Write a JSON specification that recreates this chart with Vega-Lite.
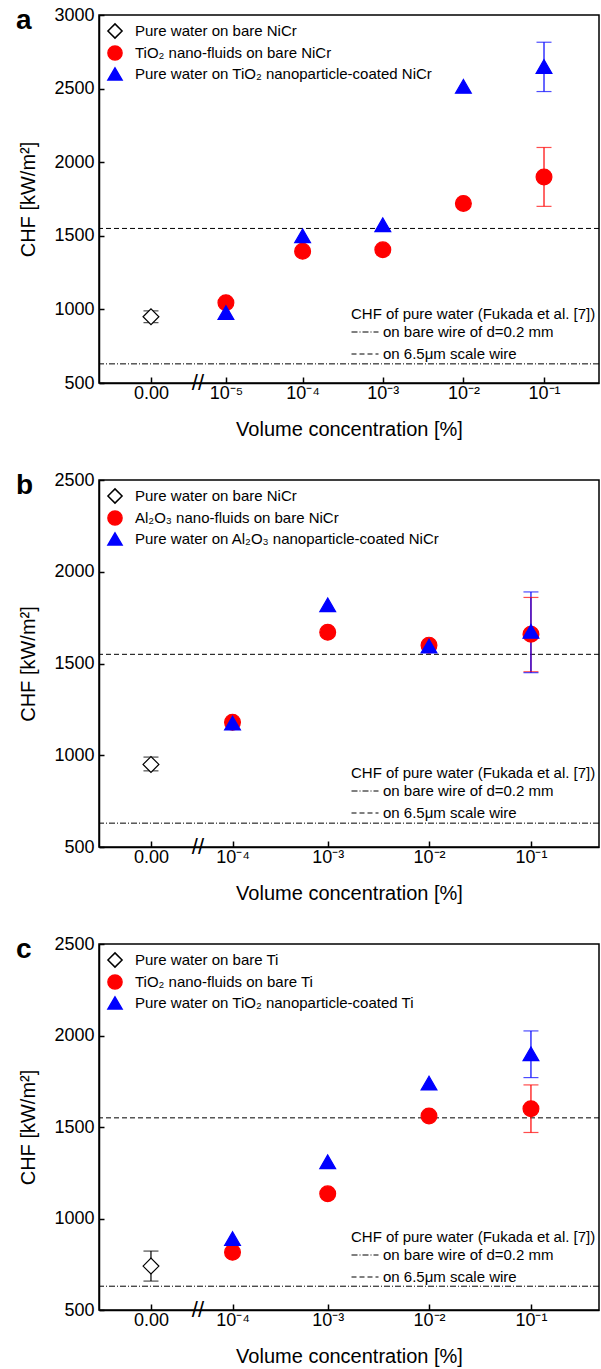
{
  "$schema": "https://vega.github.io/schema/vega-lite/v6.json",
  "padding": {"left": 15, "top": 5, "right": 3, "bottom": 0},
  "spacing": 30,
  "config": {
    "font": "Liberation Sans",
    "view": {"stroke": "black", "strokeWidth": 1.5},
    "axis": {"grid": false, "domainColor": "black", "domainWidth": 1.5, "tickColor": "black", "tickWidth": 1.5, "labelColor": "black", "titleColor": "black", "labelFontSize": 18, "titleFontSize": 20, "titleFontWeight": "normal", "labelFont": "Liberation Sans", "titleFont": "Liberation Sans"},
    "legend": {"labelFont": "Liberation Sans", "labelFontSize": 15, "labelColor": "black", "titleFont": "Liberation Sans", "labelLimit": 500},
    "title": {"anchor": "start", "frame": "bounds", "fontSize": 28, "fontWeight": "bold", "font": "Liberation Sans", "color": "black", "offset": -29, "dx": -3}
  },
  "datasets": {
    "refs": [
      {"line": "on bare wire of d=0.2 mm", "chf": 630},
      {"line": "on 6.5μm scale wire", "chf": 1550}
    ],
    "pa": [
      {"conc": 0, "series": "Pure water on bare NiCr", "chf": 950, "lo": 910, "hi": 990},
      {"conc": 0.00001, "series": "TiO₂ nano-fluids on bare NiCr", "chf": 1045, "lo": null, "hi": null},
      {"conc": 0.0001, "series": "TiO₂ nano-fluids on bare NiCr", "chf": 1395, "lo": null, "hi": null},
      {"conc": 0.001, "series": "TiO₂ nano-fluids on bare NiCr", "chf": 1405, "lo": null, "hi": null},
      {"conc": 0.01, "series": "TiO₂ nano-fluids on bare NiCr", "chf": 1720, "lo": null, "hi": null},
      {"conc": 0.1, "series": "TiO₂ nano-fluids on bare NiCr", "chf": 1900, "lo": 1700, "hi": 2100},
      {"conc": 0.00001, "series": "Pure water on TiO₂ nanoparticle-coated NiCr", "chf": 978, "lo": null, "hi": null},
      {"conc": 0.0001, "series": "Pure water on TiO₂ nanoparticle-coated NiCr", "chf": 1500, "lo": null, "hi": null},
      {"conc": 0.001, "series": "Pure water on TiO₂ nanoparticle-coated NiCr", "chf": 1575, "lo": null, "hi": null},
      {"conc": 0.01, "series": "Pure water on TiO₂ nanoparticle-coated NiCr", "chf": 2515, "lo": null, "hi": null},
      {"conc": 0.1, "series": "Pure water on TiO₂ nanoparticle-coated NiCr", "chf": 2650, "lo": 2480, "hi": 2815}
    ],
    "pb": [
      {"conc": 0, "series": "Pure water on bare NiCr", "chf": 950, "lo": 915, "hi": 990},
      {"conc": 0.0001, "series": "Al₂O₃ nano-fluids on bare NiCr", "chf": 1180, "lo": null, "hi": null},
      {"conc": 0.001, "series": "Al₂O₃ nano-fluids on bare NiCr", "chf": 1670, "lo": null, "hi": null},
      {"conc": 0.01, "series": "Al₂O₃ nano-fluids on bare NiCr", "chf": 1600, "lo": null, "hi": null},
      {"conc": 0.1, "series": "Al₂O₃ nano-fluids on bare NiCr", "chf": 1660, "lo": 1455, "hi": 1860},
      {"conc": 0.0001, "series": "Pure water on Al₂O₃ nanoparticle-coated NiCr", "chf": 1175, "lo": null, "hi": null},
      {"conc": 0.001, "series": "Pure water on Al₂O₃ nanoparticle-coated NiCr", "chf": 1820, "lo": null, "hi": null},
      {"conc": 0.01, "series": "Pure water on Al₂O₃ nanoparticle-coated NiCr", "chf": 1595, "lo": null, "hi": null},
      {"conc": 0.1, "series": "Pure water on Al₂O₃ nanoparticle-coated NiCr", "chf": 1675, "lo": 1450, "hi": 1890}
    ],
    "pc": [
      {"conc": 0, "series": "Pure water on bare Ti", "chf": 740, "lo": 658, "hi": 822},
      {"conc": 0.0001, "series": "TiO₂ nano-fluids on bare Ti", "chf": 815, "lo": null, "hi": null},
      {"conc": 0.001, "series": "TiO₂ nano-fluids on bare Ti", "chf": 1135, "lo": null, "hi": null},
      {"conc": 0.01, "series": "TiO₂ nano-fluids on bare Ti", "chf": 1560, "lo": null, "hi": null},
      {"conc": 0.1, "series": "TiO₂ nano-fluids on bare Ti", "chf": 1600, "lo": 1470, "hi": 1730},
      {"conc": 0.0001, "series": "Pure water on TiO₂ nanoparticle-coated Ti", "chf": 890, "lo": null, "hi": null},
      {"conc": 0.001, "series": "Pure water on TiO₂ nanoparticle-coated Ti", "chf": 1310, "lo": null, "hi": null},
      {"conc": 0.01, "series": "Pure water on TiO₂ nanoparticle-coated Ti", "chf": 1740, "lo": null, "hi": null},
      {"conc": 0.1, "series": "Pure water on TiO₂ nanoparticle-coated Ti", "chf": 1900, "lo": 1770, "hi": 2025}
    ]
  },
  "resolve": {
    "scale": {"x": "independent", "y": "independent", "shape": "independent", "fill": "independent", "stroke": "independent", "color": "independent", "strokeDash": "independent"}
  },
  "vconcat": [
    {
      "width": 500, "height": 368,
      "title": {"text": "a"},
      "layer": [
        {
          "data": {"name": "refs"},
          "mark": {"type": "rule", "color": "black", "strokeWidth": 1},
          "encoding": {
            "y": {"field": "chf", "type": "quantitative", "title": "CHF [kW/m²]", "scale": {"domain": [500, 3000], "nice": false, "zero": false}},
            "strokeDash": {"field": "line", "type": "nominal", "scale": {"domain": ["on bare wire of d=0.2 mm", "on 6.5μm scale wire"], "range": [[6, 2, 1, 2], [5, 3]]},
              "legend": {"orient": "none", "legendX": 252, "legendY": 292, "title": "CHF of pure water (Fukada et al. [7])", "titleFontSize": 15, "titleFontWeight": "normal", "titleColor": "black", "titlePadding": -4, "symbolType": "stroke", "symbolSize": 729, "symbolStrokeColor": "black", "symbolStrokeWidth": 1, "labelOffset": 4, "rowPadding": -12, "titleLimit": 500}}
          }
        },
        {
          "data": {"name": "pa"},
          "transform": [{"filter": "isValid(datum.lo)"}],
          "mark": {"type": "rule", "strokeWidth": 1.2},
          "encoding": {
            "x": {"field": "conc", "type": "quantitative", "title": "Volume concentration [%]"},
            "y": {"field": "lo", "type": "quantitative", "title": "CHF [kW/m²]"},
            "y2": {"field": "hi"},
            "color": {"field": "series", "type": "nominal", "scale": {"domain": ["TiO₂ nano-fluids on bare NiCr", "Pure water on TiO₂ nanoparticle-coated NiCr", "Pure water on bare NiCr"], "range": ["red", "blue", "black"]}, "legend": null}
          }
        },
        {
          "data": {"name": "pa"},
          "transform": [{"filter": "isValid(datum.lo)"}],
          "mark": {"type": "tick", "orient": "horizontal", "size": 15, "thickness": 1.2},
          "encoding": {
            "x": {"field": "conc", "type": "quantitative", "title": "Volume concentration [%]"},
            "y": {"field": "lo", "type": "quantitative", "title": "CHF [kW/m²]"},
            "color": {"field": "series", "type": "nominal", "legend": null}
          }
        },
        {
          "data": {"name": "pa"},
          "transform": [{"filter": "isValid(datum.lo)"}],
          "mark": {"type": "tick", "orient": "horizontal", "size": 15, "thickness": 1.2},
          "encoding": {
            "x": {"field": "conc", "type": "quantitative", "title": "Volume concentration [%]"},
            "y": {"field": "hi", "type": "quantitative", "title": "CHF [kW/m²]"},
            "color": {"field": "series", "type": "nominal", "legend": null}
          }
        },
        {
          "data": {"name": "pa"},
          "mark": {"type": "point", "filled": true, "opacity": 1, "size": 250, "strokeWidth": 1.2},
          "encoding": {
            "x": {"field": "conc", "type": "quantitative", "title": "Volume concentration [%]",
              "scale": {"type": "symlog", "constant": 1.333e-6, "domain": [-4.55e-6, 0.481], "nice": false, "zero": false},
              "axis": {"values": [0, 0.00001, 0.0001, 0.001, 0.01, 0.1], "tickSize": -6, "labelPadding": 7, "titlePadding": 17,
                "labelExpr": "datum.value == 0 ? '0.00' : datum.value < 5e-5 ? '10⁻⁵' : datum.value < 5e-4 ? '10⁻⁴' : datum.value < 5e-3 ? '10⁻³' : datum.value < 5e-2 ? '10⁻²' : '10⁻¹'"}},
            "y": {"field": "chf", "type": "quantitative", "title": "CHF [kW/m²]",
              "axis": {"values": [500, 1000, 1500, 2000, 2500, 3000], "format": "d", "tickSize": -5, "labelPadding": 10, "titlePadding": 15}},
            "shape": {"field": "series", "type": "nominal", "scale": {"domain": ["Pure water on bare NiCr", "TiO₂ nano-fluids on bare NiCr", "Pure water on TiO₂ nanoparticle-coated NiCr"], "range": ["diamond", "circle", "triangle-up"]},
              "legend": {"orient": "top-left", "offset": 8, "title": null, "symbolSize": 200, "labelOffset": 12, "rowPadding": 0}},
            "fill": {"field": "series", "type": "nominal", "scale": {"domain": ["Pure water on bare NiCr", "TiO₂ nano-fluids on bare NiCr", "Pure water on TiO₂ nanoparticle-coated NiCr"], "range": ["white", "red", "blue"]},
              "legend": {"orient": "top-left", "offset": 8, "title": null, "symbolSize": 200, "labelOffset": 12, "rowPadding": 0}},
            "stroke": {"field": "series", "type": "nominal", "scale": {"domain": ["Pure water on bare NiCr", "TiO₂ nano-fluids on bare NiCr", "Pure water on TiO₂ nanoparticle-coated NiCr"], "range": ["black", "red", "blue"]},
              "legend": {"orient": "top-left", "offset": 8, "title": null, "symbolSize": 200, "labelOffset": 12, "rowPadding": 0}}
          }
        },
        {
          "data": {"values": [{"mark": "break"}]},
          "mark": {"type": "text", "text": "//", "fontSize": 22, "font": "Liberation Sans", "baseline": "middle", "align": "center"},
          "encoding": {
            "x": {"datum": 3.77e-6, "type": "quantitative", "title": "Volume concentration [%]"},
            "y": {"datum": 500, "type": "quantitative", "title": "CHF [kW/m²]"}
          }
        }
      ]
    },
    {
      "width": 500, "height": 367,
      "title": {"text": "b"},
      "layer": [
        {
          "data": {"name": "refs"},
          "mark": {"type": "rule", "color": "black", "strokeWidth": 1},
          "encoding": {
            "y": {"field": "chf", "type": "quantitative", "title": "CHF [kW/m²]", "scale": {"domain": [500, 2500], "nice": false, "zero": false}},
            "strokeDash": {"field": "line", "type": "nominal", "scale": {"domain": ["on bare wire of d=0.2 mm", "on 6.5μm scale wire"], "range": [[6, 2, 1, 2], [5, 3]]},
              "legend": {"orient": "none", "legendX": 252, "legendY": 286, "title": "CHF of pure water (Fukada et al. [7])", "titleFontSize": 15, "titleFontWeight": "normal", "titleColor": "black", "titlePadding": -4, "symbolType": "stroke", "symbolSize": 729, "symbolStrokeColor": "black", "symbolStrokeWidth": 1, "labelOffset": 4, "rowPadding": -12, "titleLimit": 500}}
          }
        },
        {
          "data": {"name": "pb"},
          "transform": [{"filter": "isValid(datum.lo)"}],
          "mark": {"type": "rule", "strokeWidth": 1.2},
          "encoding": {
            "x": {"field": "conc", "type": "quantitative", "title": "Volume concentration [%]"},
            "y": {"field": "lo", "type": "quantitative", "title": "CHF [kW/m²]"},
            "y2": {"field": "hi"},
            "color": {"field": "series", "type": "nominal", "scale": {"domain": ["Al₂O₃ nano-fluids on bare NiCr", "Pure water on Al₂O₃ nanoparticle-coated NiCr", "Pure water on bare NiCr"], "range": ["red", "blue", "black"]}, "legend": null}
          }
        },
        {
          "data": {"name": "pb"},
          "transform": [{"filter": "isValid(datum.lo)"}],
          "mark": {"type": "tick", "orient": "horizontal", "size": 15, "thickness": 1.2},
          "encoding": {
            "x": {"field": "conc", "type": "quantitative", "title": "Volume concentration [%]"},
            "y": {"field": "lo", "type": "quantitative", "title": "CHF [kW/m²]"},
            "color": {"field": "series", "type": "nominal", "legend": null}
          }
        },
        {
          "data": {"name": "pb"},
          "transform": [{"filter": "isValid(datum.lo)"}],
          "mark": {"type": "tick", "orient": "horizontal", "size": 15, "thickness": 1.2},
          "encoding": {
            "x": {"field": "conc", "type": "quantitative", "title": "Volume concentration [%]"},
            "y": {"field": "hi", "type": "quantitative", "title": "CHF [kW/m²]"},
            "color": {"field": "series", "type": "nominal", "legend": null}
          }
        },
        {
          "data": {"name": "pb"},
          "mark": {"type": "point", "filled": true, "opacity": 1, "size": 250, "strokeWidth": 1.2},
          "encoding": {
            "x": {"field": "conc", "type": "quantitative", "title": "Volume concentration [%]",
              "scale": {"type": "symlog", "constant": 1.887e-5, "domain": [-4.21e-5, 0.4645], "nice": false, "zero": false},
              "axis": {"values": [0, 0.0001, 0.001, 0.01, 0.1], "tickSize": -6, "labelPadding": 7, "titlePadding": 17,
                "labelExpr": "datum.value == 0 ? '0.00' : datum.value < 5e-5 ? '10⁻⁵' : datum.value < 5e-4 ? '10⁻⁴' : datum.value < 5e-3 ? '10⁻³' : datum.value < 5e-2 ? '10⁻²' : '10⁻¹'"}},
            "y": {"field": "chf", "type": "quantitative", "title": "CHF [kW/m²]",
              "axis": {"values": [500, 1000, 1500, 2000, 2500], "format": "d", "tickSize": -5, "labelPadding": 10, "titlePadding": 15}},
            "shape": {"field": "series", "type": "nominal", "scale": {"domain": ["Pure water on bare NiCr", "Al₂O₃ nano-fluids on bare NiCr", "Pure water on Al₂O₃ nanoparticle-coated NiCr"], "range": ["diamond", "circle", "triangle-up"]},
              "legend": {"orient": "top-left", "offset": 8, "title": null, "symbolSize": 200, "labelOffset": 12, "rowPadding": 0}},
            "fill": {"field": "series", "type": "nominal", "scale": {"domain": ["Pure water on bare NiCr", "Al₂O₃ nano-fluids on bare NiCr", "Pure water on Al₂O₃ nanoparticle-coated NiCr"], "range": ["white", "red", "blue"]},
              "legend": {"orient": "top-left", "offset": 8, "title": null, "symbolSize": 200, "labelOffset": 12, "rowPadding": 0}},
            "stroke": {"field": "series", "type": "nominal", "scale": {"domain": ["Pure water on bare NiCr", "Al₂O₃ nano-fluids on bare NiCr", "Pure water on Al₂O₃ nanoparticle-coated NiCr"], "range": ["black", "red", "blue"]},
              "legend": {"orient": "top-left", "offset": 8, "title": null, "symbolSize": 200, "labelOffset": 12, "rowPadding": 0}}
          }
        },
        {
          "data": {"values": [{"mark": "break"}]},
          "mark": {"type": "text", "text": "//", "fontSize": 22, "font": "Liberation Sans", "baseline": "middle", "align": "center"},
          "encoding": {
            "x": {"datum": 3.56e-5, "type": "quantitative", "title": "Volume concentration [%]"},
            "y": {"datum": 500, "type": "quantitative", "title": "CHF [kW/m²]"}
          }
        }
      ]
    },
    {
      "width": 500, "height": 366,
      "title": {"text": "c"},
      "layer": [
        {
          "data": {"name": "refs"},
          "mark": {"type": "rule", "color": "black", "strokeWidth": 1},
          "encoding": {
            "y": {"field": "chf", "type": "quantitative", "title": "CHF [kW/m²]", "scale": {"domain": [500, 2500], "nice": false, "zero": false}},
            "strokeDash": {"field": "line", "type": "nominal", "scale": {"domain": ["on bare wire of d=0.2 mm", "on 6.5μm scale wire"], "range": [[6, 2, 1, 2], [5, 3]]},
              "legend": {"orient": "none", "legendX": 252, "legendY": 286, "title": "CHF of pure water (Fukada et al. [7])", "titleFontSize": 15, "titleFontWeight": "normal", "titleColor": "black", "titlePadding": -4, "symbolType": "stroke", "symbolSize": 729, "symbolStrokeColor": "black", "symbolStrokeWidth": 1, "labelOffset": 4, "rowPadding": -12, "titleLimit": 500}}
          }
        },
        {
          "data": {"name": "pc"},
          "transform": [{"filter": "isValid(datum.lo)"}],
          "mark": {"type": "rule", "strokeWidth": 1.2},
          "encoding": {
            "x": {"field": "conc", "type": "quantitative", "title": "Volume concentration [%]"},
            "y": {"field": "lo", "type": "quantitative", "title": "CHF [kW/m²]"},
            "y2": {"field": "hi"},
            "color": {"field": "series", "type": "nominal", "scale": {"domain": ["TiO₂ nano-fluids on bare Ti", "Pure water on TiO₂ nanoparticle-coated Ti", "Pure water on bare Ti"], "range": ["red", "blue", "black"]}, "legend": null}
          }
        },
        {
          "data": {"name": "pc"},
          "transform": [{"filter": "isValid(datum.lo)"}],
          "mark": {"type": "tick", "orient": "horizontal", "size": 15, "thickness": 1.2},
          "encoding": {
            "x": {"field": "conc", "type": "quantitative", "title": "Volume concentration [%]"},
            "y": {"field": "lo", "type": "quantitative", "title": "CHF [kW/m²]"},
            "color": {"field": "series", "type": "nominal", "legend": null}
          }
        },
        {
          "data": {"name": "pc"},
          "transform": [{"filter": "isValid(datum.lo)"}],
          "mark": {"type": "tick", "orient": "horizontal", "size": 15, "thickness": 1.2},
          "encoding": {
            "x": {"field": "conc", "type": "quantitative", "title": "Volume concentration [%]"},
            "y": {"field": "hi", "type": "quantitative", "title": "CHF [kW/m²]"},
            "color": {"field": "series", "type": "nominal", "legend": null}
          }
        },
        {
          "data": {"name": "pc"},
          "mark": {"type": "point", "filled": true, "opacity": 1, "size": 250, "strokeWidth": 1.2},
          "encoding": {
            "x": {"field": "conc", "type": "quantitative", "title": "Volume concentration [%]",
              "scale": {"type": "symlog", "constant": 1.887e-5, "domain": [-4.21e-5, 0.4645], "nice": false, "zero": false},
              "axis": {"values": [0, 0.0001, 0.001, 0.01, 0.1], "tickSize": -6, "labelPadding": 7, "titlePadding": 17,
                "labelExpr": "datum.value == 0 ? '0.00' : datum.value < 5e-5 ? '10⁻⁵' : datum.value < 5e-4 ? '10⁻⁴' : datum.value < 5e-3 ? '10⁻³' : datum.value < 5e-2 ? '10⁻²' : '10⁻¹'"}},
            "y": {"field": "chf", "type": "quantitative", "title": "CHF [kW/m²]",
              "axis": {"values": [500, 1000, 1500, 2000, 2500], "format": "d", "tickSize": -5, "labelPadding": 10, "titlePadding": 15}},
            "shape": {"field": "series", "type": "nominal", "scale": {"domain": ["Pure water on bare Ti", "TiO₂ nano-fluids on bare Ti", "Pure water on TiO₂ nanoparticle-coated Ti"], "range": ["diamond", "circle", "triangle-up"]},
              "legend": {"orient": "top-left", "offset": 8, "title": null, "symbolSize": 200, "labelOffset": 12, "rowPadding": 0}},
            "fill": {"field": "series", "type": "nominal", "scale": {"domain": ["Pure water on bare Ti", "TiO₂ nano-fluids on bare Ti", "Pure water on TiO₂ nanoparticle-coated Ti"], "range": ["white", "red", "blue"]},
              "legend": {"orient": "top-left", "offset": 8, "title": null, "symbolSize": 200, "labelOffset": 12, "rowPadding": 0}},
            "stroke": {"field": "series", "type": "nominal", "scale": {"domain": ["Pure water on bare Ti", "TiO₂ nano-fluids on bare Ti", "Pure water on TiO₂ nanoparticle-coated Ti"], "range": ["black", "red", "blue"]},
              "legend": {"orient": "top-left", "offset": 8, "title": null, "symbolSize": 200, "labelOffset": 12, "rowPadding": 0}}
          }
        },
        {
          "data": {"values": [{"mark": "break"}]},
          "mark": {"type": "text", "text": "//", "fontSize": 22, "font": "Liberation Sans", "baseline": "middle", "align": "center"},
          "encoding": {
            "x": {"datum": 3.56e-5, "type": "quantitative", "title": "Volume concentration [%]"},
            "y": {"datum": 500, "type": "quantitative", "title": "CHF [kW/m²]"}
          }
        }
      ]
    }
  ]
}
